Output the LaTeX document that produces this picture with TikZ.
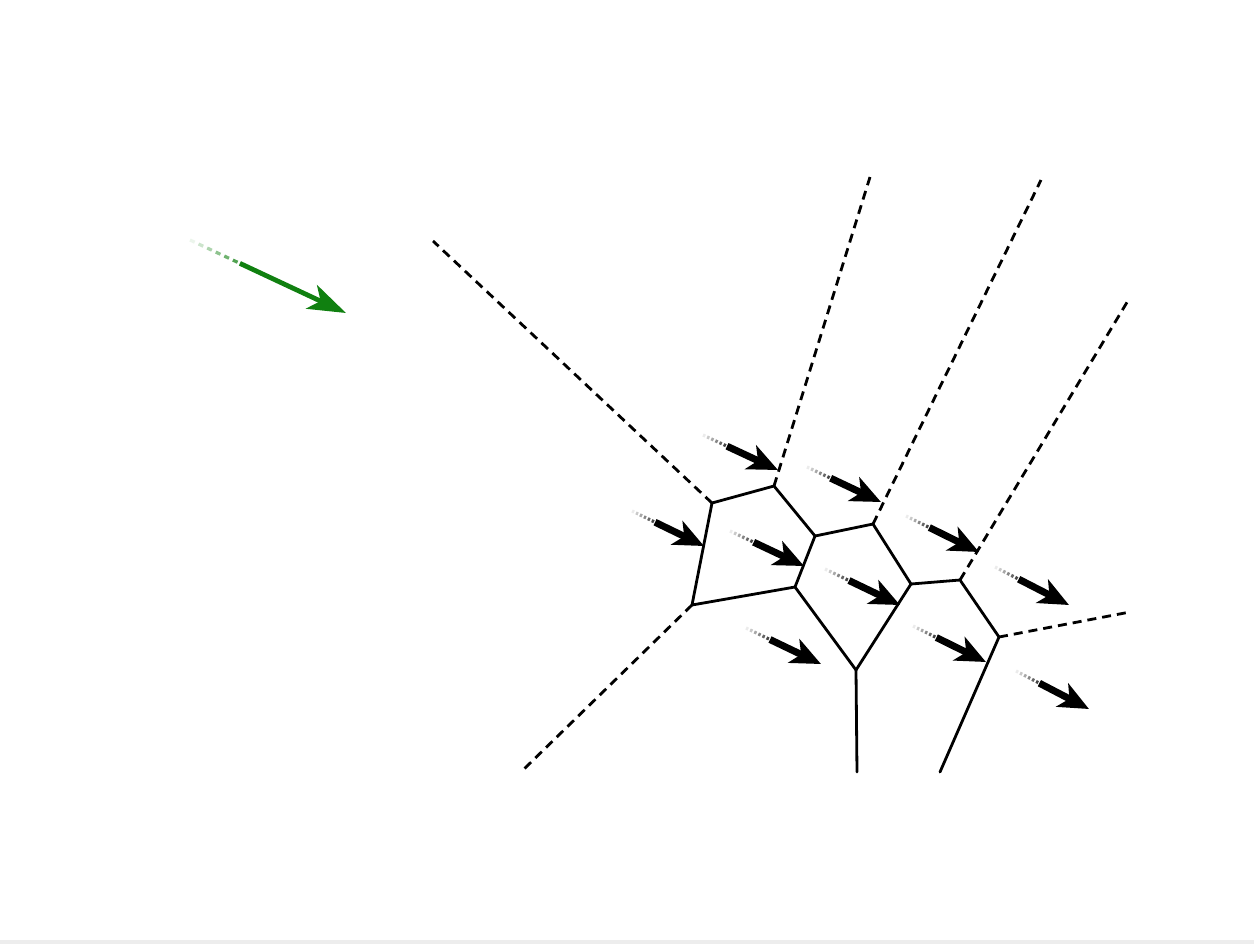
\documentclass[tikz,border=0pt]{standalone}
\usetikzlibrary{calc,arrows.meta}
\definecolor{wgreen}{RGB}{16,128,16}
\tikzset{
  edge/.style={line width=1.4pt, line cap=round},
  ray/.style={line width=1.4pt, dash pattern=on 4.5pt off 3pt},
  shaft/.style={line width=3.5pt, -{Stealth[length=15pt,width=13pt,inset=4pt]}},
  gshaft/.style={line width=2.4pt, -{Stealth[length=19pt,width=13pt,inset=5pt]}}
}
\newcommand\windarrow[4]{%
  \foreach \k in {0,...,5}{%
    \pgfmathsetmacro\op{0.08+0.13*\k}%
    \draw[#3, line width=1.6pt, opacity=\op] ($(#1)!{\k*0.055}!(#2)$) -- ($(#1)!{\k*0.055+0.03}!(#2)$);
  }%
  \draw[#3,#4] ($(#1)!0.32!(#2)$) -- (#2);
}
\begin{document}
\begin{tikzpicture}[x=0.5pt,y=-0.5pt]
\useasboundingbox (0,0) rectangle (1254,944);
\fill[black!7] (0,940) rectangle (1254,944);
% vertices
\coordinate (A) at (712,503);
\coordinate (B) at (774,486);
\coordinate (C) at (692,605);
\coordinate (D) at (795,587);
\coordinate (E) at (815,536);
\coordinate (F) at (873,524);
\coordinate (G) at (911,584);
\coordinate (H) at (856,670);
\coordinate (I) at (960,580);
\coordinate (J) at (999,637);
% far ends
\coordinate (rA) at (433,241);
\coordinate (rB) at (870,177);
\coordinate (rF) at (1041,180);
\coordinate (rI) at (1129,299);
\coordinate (rJ) at (1130,612);
\coordinate (rC) at (521,772);
\coordinate (sH) at (857,772);
\coordinate (sJ) at (940,772);
% solid edges
\draw[edge] (B) -- (A) -- (C) -- (D) -- (E) -- (B);
\draw[edge] (E) -- (F) -- (G) -- (H) -- (D);
\draw[edge] (G) -- (I) -- (J);
\draw[edge] (H) -- (sH);
\draw[edge] (J) -- (sJ);
% dashed rays
\draw[ray] (A) -- (rA);
\draw[ray] (B) -- (rB);
\draw[ray] (F) -- (rF);
\draw[ray] (I) -- (rI);
\draw[ray] (J) -- (rJ);
\draw[ray] (C) -- (rC);
% wind arrows
\coordinate (t1) at (703,435);  \coordinate (p1) at (778,470);
\coordinate (t2) at (632,511);  \coordinate (p2) at (704,546);
\coordinate (t3) at (807,467);  \coordinate (p3) at (881,502);
\coordinate (t4) at (730,531);  \coordinate (p4) at (804,566);
\coordinate (t5) at (906,516);  \coordinate (p5) at (979,552);
\coordinate (t6) at (825,569);  \coordinate (p6) at (900,605);
\coordinate (t7) at (995,567);  \coordinate (p7) at (1069,605);
\coordinate (t8) at (746,628);  \coordinate (p8) at (821,664);
\coordinate (t9) at (913,626);  \coordinate (p9) at (986,662);
\coordinate (t10) at (1016,671); \coordinate (p10) at (1089,709);
\foreach \i in {1,...,10}{\windarrow{t\i}{p\i}{black}{shaft}}
% green arrow
\coordinate (gt) at (190,240);
\coordinate (gp) at (346,313);
\windarrow{gt}{gp}{wgreen}{gshaft}
\end{tikzpicture}
\end{document}
